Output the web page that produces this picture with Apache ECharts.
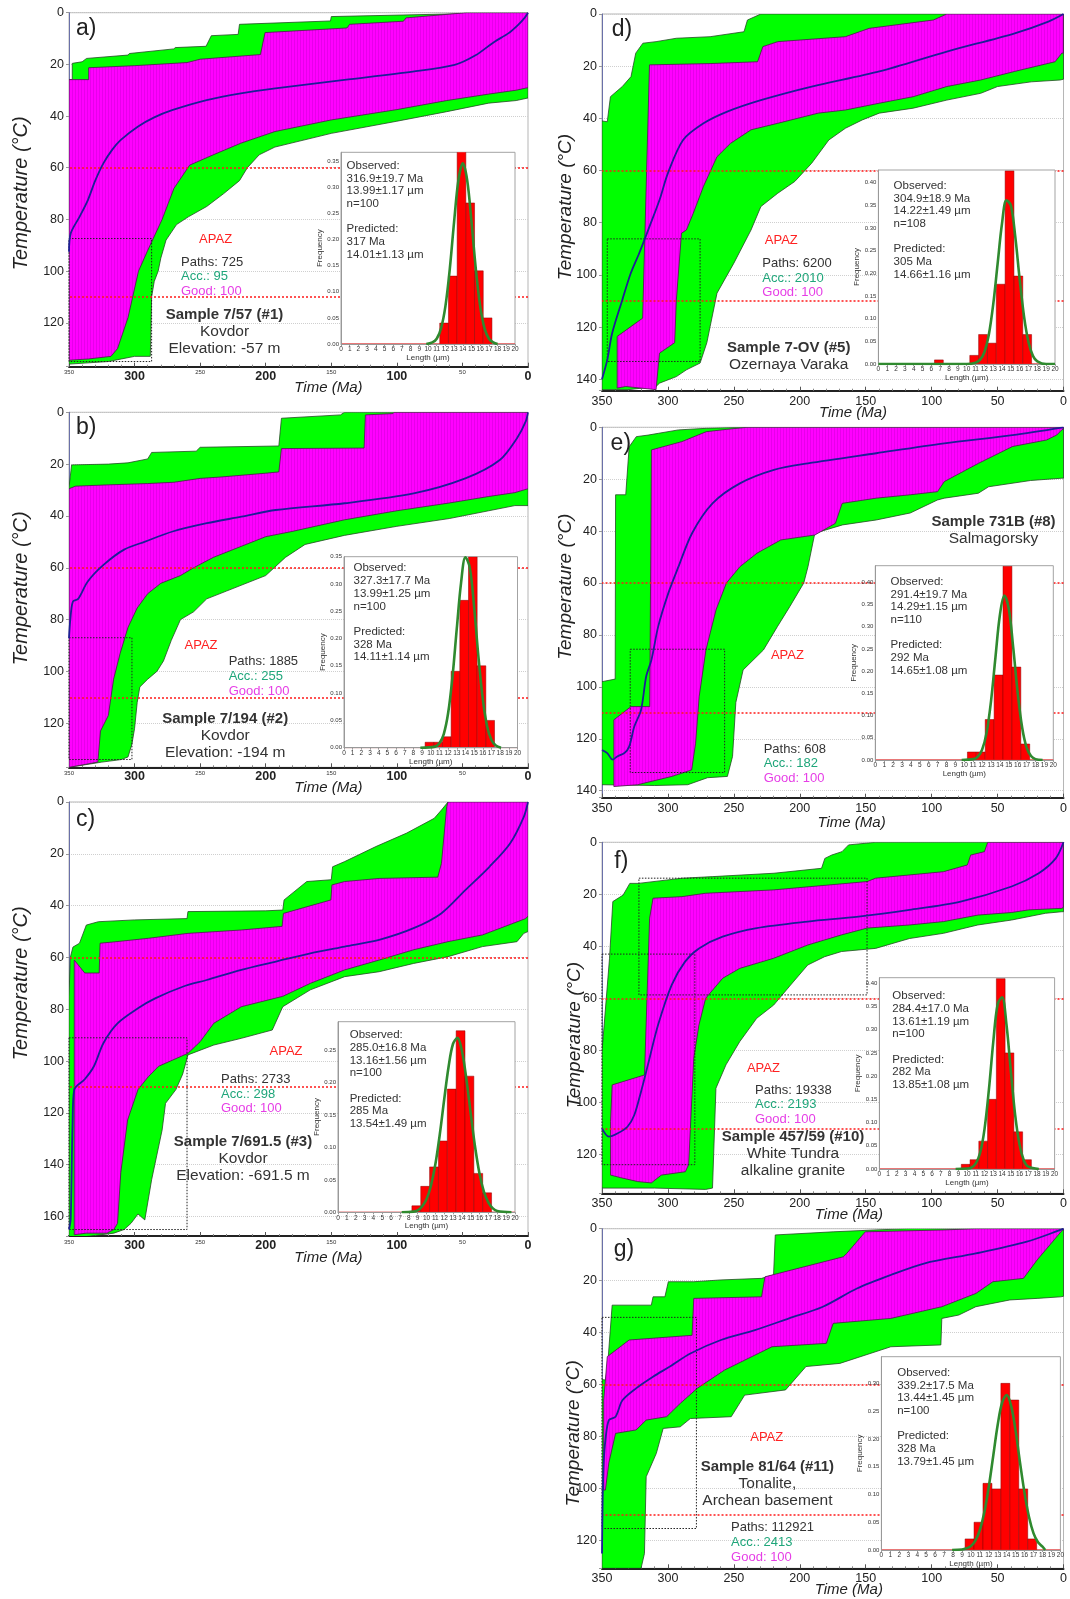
<!DOCTYPE html>
<html><head><meta charset="utf-8">
<script src="https://cdn.jsdelivr.net/npm/echarts@6/dist/echarts.min.js"></script>
<style>html,body{margin:0;padding:0;background:#fff}#c{width:1070px;height:1599px}</style>
</head><body><div id="c"></div>
<script>
// ---------------- DATA ([time Ma, temperature °C]) ----------------
const apazLimits = [60, 110];

const aGreenTop = [[350,25.9],[347.5,25.9],[347.5,19.6],[340,19],[336.6,17.7],[305,16.4],[304,15.8],[270,14],[269,13.5],[245.5,13],[241.5,8.9],[221,8.4],[220,4.5],[150.6,3.2],[150,1.5],[51,0.4],[48,0],[0,0]];
const aGreenBot = [[0,33],[9,34],[30,35],[62,38.3],[100,42],[150,46.7],[193,52],[205,55],[214,60],[220,65],[232,70],[245,75],[259,79],[268,82],[276,88],[280,95],[282,100],[285,104],[287,110],[288,133],[300,133],[310,134],[320,135],[350,136]];
const aMagTop = [[350,25.9],[335,25.9],[335,21.3],[300,20.5],[260,19.3],[250,18],[204,16.2],[200.5,7.7],[138,5.9],[136,4.5],[95,3.3],[93,2],[47,0],[0,0]];
const aMagBot = [[0,29],[9,30],[30,31.5],[62,34],[100,37.5],[150,41.5],[193,46],[219,50.5],[240,55],[258,59],[262,62],[270,68],[279,80],[290,92],[297,100],[305,118],[309,124],[313,130],[318,133],[335,134],[350,134.5]];
const aBest = [[350,92.5],[348.7,85.4],[342,79],[335.6,72.5],[330,65],[323.8,58.3],[317,53],[310.7,49.3],[297.6,44.1],[285,40.5],[271.4,37.7],[245,33.8],[219,31.2],[192.7,29.3],[140,26],[87.8,22.8],[56,20.2],[40,16.5],[25.5,11.2],[15,8],[7.7,4.8],[2.6,2],[0,0]];
const aBox = [350, 287, 87.4, 135];

const bGreenTop = [[350,29],[348,20.3],[320,20],[305,19.5],[290,18],[287,15.5],[253,15],[250,13.5],[190,13],[188,2.3],[143,1],[140,0],[0,0]];
const bGreenBot = [[0,36],[10,36],[30,38],[60,41],[100,44],[140,47.5],[170,51],[185,56],[200,63],[215,66],[230,69],[245,72],[255,77],[265,80],[272,88],[278,96],[283,100],[290,103],[296,106],[298,112],[300,122],[302,128],[305,133],[310,134],[325,135],[350,137]];
const bMagTop = [[350,29.5],[345,28.5],[320,28],[290,27.5],[270,27],[250,25.5],[235,25],[200,23.5],[190,23],[188,14],[125,13.8],[124,1],[103,0.5],[102,0],[0,0]];
const bMagBot = [[0,29.5],[10,31],[30,32.5],[60,35],[100,38],[140,41.5],[180,46],[200,48],[220,52],[240,56],[255,60],[265,63],[280,66],[290,70],[298,75.5],[305,83],[311,93],[316,103],[320,117],[326,123],[328,135],[350,137]];
const bBest = [[350,87.2],[349,80],[347,73],[343,72],[335.7,65.3],[323.7,58.9],[308,53],[292,49.9],[271,46],[244.9,42.8],[218.6,40.3],[192.3,37.7],[139.8,35.1],[87.2,31.3],[47.8,25.5],[21.5,18.4],[8.4,10],[1.8,3.6],[0,0]];
const bBox = [350, 302, 87, 134];

const cGreenTop = [[350,75],[349,60],[347,56],[342,54.5],[336.8,47.5],[327.6,46.2],[300,45.5],[260,45],[259.3,42.3],[200,42],[187,41.7],[186,37.8],[168.7,30.7],[150,30],[149,25],[139.8,23],[116,17.2],[92.5,12],[71.5,6.3],[66,3.1],[61,0],[0,0]];
const cGreenBot = [[0,50],[3.2,50.7],[8.4,53.9],[34.7,55.8],[61,59.7],[87.2,62.3],[113.5,65.5],[139.8,67.4],[166,72.5],[187,79],[195,88],[218.6,91.2],[239.6,93.8],[259.3,97.6],[263.3,105],[268.5,111],[276.4,116.3],[279,126.6],[287,145.8],[292.2,161.3],[297.4,159],[302.7,162.6],[308,165],[315.8,166.4],[336.8,167.7],[350,167.7]];
const cMagTop = [[346,61],[338,66],[327,66],[326.3,54.5],[315.8,54],[289.5,52.6],[259.3,50.7],[218.6,49.4],[187.5,48],[186.5,43],[150.3,37.8],[149.5,32],[139.8,30.7],[113.5,29.5],[68.8,29],[66,23.7],[62,1.8],[61,0],[0,0]];
const cMagBot = [[0,44],[1.8,45],[34.7,51.3],[61,53.9],[87,57],[113.5,61],[139.8,64.8],[166,70],[187,75],[218.6,79],[239.6,85.4],[250,92.5],[259.3,97],[281.7,102],[289.5,106],[297.4,111],[305.3,122.7],[310.5,143],[313,162.6],[315.8,165],[321,166.4],[336.8,166.4],[346,167]];
const cBest = [[350,165],[348.7,161],[347.3,124],[346,111],[338,107],[331,102],[323.7,93],[313,85.4],[297.4,79.6],[284.3,75.8],[263.3,71.3],[245,68.7],[218.6,64.8],[192.3,61.6],[166,58.4],[139.8,55.8],[113.5,53.2],[87.2,48.7],[66.2,43],[47.8,34],[29.4,25],[13.7,16],[3.2,5.7],[0,0]];
const cBox = [350, 260, 91, 165];

const dGreenTop = [[350,41],[346,41.3],[343.6,31.7],[334.6,27.8],[328,24],[324.4,15],[319,11.2],[309,10.6],[293.6,9.3],[268,8.7],[242.3,6.8],[239.7,2.3],[229.5,0],[0,0]];
const dGreenBot = [[0,25],[2.6,25.3],[24.4,26],[50,27.8],[62.8,30.4],[88.5,33],[114,36.1],[139.7,38],[152.6,40.6],[165.4,43.8],[178,48.3],[191,57.2],[203.8,64.2],[216.7,68.7],[229.5,73.8],[237,82.8],[250,95.5],[262.8,107],[268,119.8],[270.5,126],[275.6,133.8],[286,136.4],[293.6,139],[306.4,141.5],[309,142.8],[330,144],[350,144]];
const dMagTop = [[338.5,123.6],[319.2,116.6],[314,19.5],[268,19],[232,18.3],[228,12.5],[216.7,10.6],[165.4,8.7],[147.4,5.5],[98.7,2.3],[88.5,0],[0,0]];
const dMagBot = [[0,15],[1.3,15],[6.4,18.3],[37,22],[62.8,25.3],[88.5,27.8],[114,31.7],[139.7,34.2],[165.4,36.8],[186,38],[216.7,41.9],[237,44.4],[252.6,49.6],[262.8,54.7],[273,66],[280.8,76.4],[286,82.8],[289.7,84],[293.6,109.6],[294.9,126],[306.4,130],[309,144],[332,142.8],[338.5,143.4]];
const dBest = [[350,140],[346,132.6],[342.3,122.4],[334.6,109.6],[328.2,99.4],[321.8,91.7],[314,81.5],[306.4,71.3],[300,61],[288.5,48.3],[273,41.9],[255,37.4],[229.5,33],[191,27.8],[139.7,22],[88.5,14.4],[37,7.4],[11.5,2.9],[0,0]];
const dBox = [346, 275.6, 86.2, 133.2];

const eGreenTop = [[350,98],[340,97],[339.7,26],[332,26],[329.4,7.5],[324,3.6],[315,3],[307,2.3],[292,1],[271,0.4],[245,0],[0,0]];
const eGreenBot = [[0,19.6],[1.3,19.6],[25,20.5],[56.8,22.9],[64.6,25.4],[90.4,27.3],[95.6,28],[116.2,33],[142,35.7],[167.6,37.6],[188.6,40.8],[193.8,53.7],[197,60],[207.5,69],[217,76.8],[227.6,85.8],[243,93.5],[248.5,106],[251,126.8],[254.9,134.5],[270,135],[285,137.7],[310,138],[350,137.7]];
const eMagTop = [[341,112.7],[328,107.6],[313.8,107.6],[312.5,8.7],[307.4,8],[289.3,5.5],[271,1.7],[255.7,0.8],[240,0],[0,0]];
const eMagBot = [[0,0.5],[1.3,1],[5.2,3],[12.9,4.9],[38.7,7.4],[64.6,13.9],[90.4,20.9],[95.6,24.8],[116.2,26],[142,27.3],[167.9,29.3],[173,37],[188.6,41.5],[214.4,43.4],[232.5,48.5],[245.4,53.7],[255.7,60],[263.5,70.3],[271.2,85.8],[276.3,103.7],[279,121.7],[282,132],[297,134.5],[323,137.7],[341,138.4]];
const eBest = [[350,124.3],[346,125.5],[342,128],[338.4,126.8],[333,125.5],[329.4,123],[325.5,115.3],[320.4,108.9],[316.5,96],[312.5,89.6],[307.4,76.8],[299.7,63.9],[292,53.7],[281.7,40.8],[266.2,29.3],[245.4,21.6],[219.6,16.4],[193.8,13.9],[142,10],[90.4,6.2],[38.7,3],[0,0]];
const eBox = [328.6, 257, 85.5, 133];

const fGreenTop = [[350,80.5],[344.3,44.6],[341.8,22.8],[334,20.3],[328.9,15.8],[322.4,15.8],[289,13.8],[266,13.2],[219.6,11.9],[183.5,10],[181,6.2],[175.8,4.9],[168,3.6],[163,1],[142.5,0],[0,0]];
const fGreenBot = [[0,26.7],[1.3,26.7],[13.7,27.3],[39.4,29.9],[65,31.8],[91,35],[116.8,37],[142.5,40.8],[168.3,42],[181.2,44],[194,47.2],[207,54.9],[219.8,62.6],[232.7,67.7],[245.6,76.7],[256,85.6],[263.6,94.6],[266.2,133],[271.4,133.5],[310,133],[350,133]];
const fMagTop = [[343.5,107.4],[342.3,93.3],[317.8,89.5],[313.9,29.2],[311.3,21.5],[289.4,20.9],[271.4,19.6],[219.8,18.3],[148.9,15.1],[142.5,13.8],[91,11.3],[72.9,8.7],[70.4,4.9],[60,3.6],[57.5,0],[0,0]];
const fMagBot = [[0,25],[1.3,25.4],[26.5,26],[39.4,27],[65,28],[91,30.5],[116.8,31.8],[148.9,33],[168.3,35.6],[194,39.5],[219.8,44.6],[245.6,48.5],[258.5,52.3],[271.4,60],[276.5,70.3],[280.4,83],[284.3,124],[286.8,126.7],[305,128],[312.6,131],[322.9,130.5],[335.8,129],[343.5,128]];
const fBest = [[350,110],[344.8,113.2],[338.4,112],[330.7,109.4],[325.5,104.9],[320.4,95.9],[315.2,85.6],[307.5,70.3],[297.2,54.9],[287,45.9],[276.5,40.8],[258.5,36.3],[232.7,33],[194,30.5],[155.4,28.6],[116.8,26],[78,22.8],[39.4,17],[18.8,11.9],[5.9,6.2],[0,0]];
const fBox1 = [322, 149, 13.8, 58.7];
const fBox2 = [350, 279.6, 43, 124];

const gGreenTop = [[350,58],[347.4,58.2],[346,54.4],[342.3,29.4],[312.6,29.4],[311.3,26.2],[302.3,26.2],[299.7,20.4],[280.4,20.4],[259.8,19.7],[229,19.1],[219.9,17.8],[218.6,2.4],[174.7,1.2],[143.8,0.5],[118,0],[0,0]];
const gGreenBot = [[0,26],[2,26.2],[20,26.8],[40.7,27.4],[66.5,30],[79.4,33.2],[92.3,34.5],[93,44.7],[131,45.4],[169.6,51.8],[195.3,53],[210.8,62],[241.8,64],[252,72.3],[283,73],[290.7,76.2],[303.6,76.8],[308.8,86.4],[316.5,95.4],[317.8,124.9],[320.4,130.6],[350,130.6]];
const gMagTop = [[348.7,66],[346,49.2],[329.4,42.8],[281.7,41],[280.4,26.8],[229,26.2],[226.4,18.5],[167,10.8],[164.4,9.5],[150.3,1.2],[92.3,0.5],[66.5,0],[0,0]];
const gMagBot = [[0,0.5],[0.8,0.5],[20,12],[30.4,19.1],[53.6,20.4],[66.5,24.9],[92.3,30],[131,34.5],[174.7,36.4],[179.9,44.1],[221.1,45.4],[239.2,49.9],[257.2,54.4],[277.8,61.4],[290.7,67.2],[301,72.3],[316.5,73.6],[324.2,77.4],[339.7,78.7],[344.8,90],[347.4,100.5],[348.7,100.5]];
const gBest = [[350,124.9],[349.5,104],[348.7,90],[347.4,81.3],[344.8,73.6],[339.7,72.3],[334.5,66],[324.2,61.4],[311.3,56.9],[298.5,53],[283,48],[259.8,42.8],[234,39],[208.2,34.5],[182.5,30],[156.7,23],[131,17.8],[105.2,13.3],[66.5,9.5],[27.8,5],[0,0]];
const gBox = [350, 278.4, 34.1, 115.3];

// track-length histograms: first bin (µm) and frequencies of 1-µm bins
const aHistFrom = 11, aHist = [0.04,0.13,0.37,0.27,0.14,0.05];
const bHistFrom = 9,  bHist = [0.01,0.01,0.02,0.14,0.27,0.35,0.15,0.05];
const cHistFrom = 8,  cHist = [0.01,0.04,0.07,0.11,0.19,0.28,0.21,0.06,0.03];
const dHistFrom = 6,  dHist = [0.009,0,0,0,0.019,0.065,0.046,0.176,0.426,0.194,0.065];
const eHistFrom = 10, eHist = [0.018,0.018,0.091,0.191,0.436,0.209,0.036];
const fHistFrom = 9,  fHist = [0.01,0.02,0.06,0.15,0.41,0.25,0.08,0.02];
const gHistFrom = 9,  gHist = [0.02,0.05,0.12,0.11,0.30,0.27,0.11,0.02];

// predicted length distributions
const aFit = [[9.8,0],[10.5,0.003],[11,0.01],[11.5,0.03],[12,0.072],[12.5,0.143],[13,0.234],[13.5,0.314],[14,0.346],[14.5,0.314],[15,0.234],[15.5,0.143],[16,0.072],[16.5,0.03],[17,0.01],[17.5,0.003],[18,0]];
const bFit = [[8.8,0],[10.5,0.002],[11,0.008],[11.5,0.025],[12,0.063],[12.5,0.129],[13,0.218],[13.5,0.303],[14,0.349],[14.5,0.33],[15,0.258],[15.5,0.166],[16,0.089],[16.5,0.039],[17,0.014],[17.5,0.004],[18.1,0]];
const cFit = [[7.2,0],[8.5,0.001],[9,0.003],[9.5,0.009],[10,0.02],[10.5,0.041],[11,0.074],[11.5,0.12],[12,0.174],[12.5,0.225],[13,0.26],[13.5,0.269],[14,0.249],[14.5,0.206],[15,0.152],[15.5,0.1],[16,0.059],[16.5,0.031],[17,0.015],[17.5,0.006],[18,0.002],[19.6,0]];
const dFit = [[0,0],[10,0],[11,0.003],[11.5,0.009],[12,0.026],[12.5,0.064],[13,0.131],[13.5,0.221],[14,0.31],[14.5,0.361],[15,0.35],[15.5,0.281],[16,0.187],[16.5,0.104],[17,0.048],[17.5,0.018],[18,0.006],[19,0],[20,0]];
const eFit = [[9.7,0],[11,0.002],[11.5,0.007],[12,0.023],[12.5,0.061],[13,0.132],[13.5,0.231],[14,0.326],[14.5,0.37],[15,0.34],[15.5,0.252],[16,0.151],[16.5,0.073],[17,0.028],[17.5,0.009],[18,0.002],[18.8,0]];
const fFit = [[8.7,0],[10,0.001],[10.5,0.003],[11,0.012],[11.5,0.035],[12,0.086],[12.5,0.171],[13,0.274],[13.5,0.355],[14,0.37],[14.5,0.312],[15,0.212],[15.5,0.116],[16,0.052],[16.5,0.018],[17,0.005],[18.2,0]];
const gFit = [[7.9,0],[9,0.001],[9.5,0.003],[10,0.007],[10.5,0.017],[11,0.036],[11.5,0.068],[12,0.114],[12.5,0.17],[13,0.226],[13.5,0.266],[14,0.279],[14.5,0.259],[15,0.214],[15.5,0.156],[16,0.102],[16.5,0.059],[17,0.03],[17.5,0.014],[18,0.006],[18.3,0]];

// text content
const aCounts = [725, 95, 100],    aTitle = ['Sample 7/57 (#1)', 'Kovdor', 'Elevation: -57 m'];
const bCounts = [1885, 255, 100],  bTitle = ['Sample 7/194 (#2)', 'Kovdor', 'Elevation: -194 m'];
const cCounts = [2733, 298, 100],  cTitle = ['Sample 7/691.5 (#3)', 'Kovdor', 'Elevation: -691.5 m'];
const dCounts = [6200, 2010, 100], dTitle = ['Sample 7-OV (#5)', 'Ozernaya Varaka'];
const eCounts = [608, 182, 100],   eTitle = ['Sample 731B (#8)', 'Salmagorsky'];
const fCounts = [19338, 2193, 100],fTitle = ['Sample 457/59 (#10)', 'White Tundra', 'alkaline granite'];
const gCounts = [112921, 2413, 100], gTitle = ['Sample 81/64 (#11)', 'Tonalite,', 'Archean basement'];
const aStats = ['316.9±19.7 Ma','13.99±1.17 µm','n=100','317 Ma','14.01±1.13 µm'];
const bStats = ['327.3±17.7 Ma','13.99±1.25 µm','n=100','328 Ma','14.11±1.14 µm'];
const cStats = ['285.0±16.8 Ma','13.16±1.56 µm','n=100','285 Ma','13.54±1.49 µm'];
const dStats = ['304.9±18.9 Ma','14.22±1.49 µm','n=108','305 Ma','14.66±1.16 µm'];
const eStats = ['291.4±19.7 Ma','14.29±1.15 µm','n=110','292 Ma','14.65±1.08 µm'];
const fStats = ['284.4±17.0 Ma','13.61±1.19 µm','n=100','282 Ma','13.85±1.08 µm'];
const gStats = ['339.2±17.5 Ma','13.44±1.45 µm','n=100','328 Ma','13.79±1.45 µm'];

// ---------------- LAYOUT (pixels) ----------------
const LAYOUT = {
  a:{left:true, grid:[69,12.7,459,354,137],  inset:[341,152.3,174,191.7,0.367], letter:[76,28.3], apaz:[215.6,239], paths:[181,262], title:[224.5,315.3], time:[328.4,388.3], temp:[21.3,193.3], stats:[346.6,165.7]},
  b:{left:true, grid:[69,412.3,459,355,137], inset:[344,556.7,173.5,191,0.35], letter:[76,428], apaz:[201,645.7], paths:[228.7,661.7], title:[225.2,719], time:[328.4,788.3], temp:[21.3,588.3], stats:[353.5,568.3]},
  c:{left:true, grid:[69,802,459,434,167.5], inset:[338,1021.7,177,190.6,0.294], letter:[76,819.3], apaz:[286,1051.3], paths:[221,1079.3], title:[243,1142.3], time:[328.4,1258.3], temp:[21.3,983.3], stats:[349.7,1035]},
  d:{grid:[602,14,462,376.7,144.4],   inset:[878.4,170,176.6,194,0.428], letter:[611.7,29.3], apaz:[781.3,240.7], paths:[762.3,263.3], title:[788.7,348.3], time:[853,413.3], temp:[565.4,207], stats:[893.6,185.7]},
  e:{grid:[602,427.3,462,370.4,142.7], inset:[875.3,565.7,178,194.3,0.437], letter:[610.6,443.3], apaz:[787.4,655], paths:[763.7,749], title:[993.5,522.3], time:[851.6,823.3], temp:[566,586.7], stats:[890.5,581.7]},
  f:{grid:[602,842.3,462,351,135],    inset:[879.4,977.7,175.2,191.3,0.412], letter:[614.3,861.7], apaz:[763.4,1068.3], paths:[755,1090], title:[793,1137.3], time:[848.9,1215], temp:[574.3,1035], stats:[892.3,996]},
  g:{grid:[602,1228.7,462,339.6,130.6], inset:[881.4,1356.7,179,193.3,0.348], letter:[613.8,1250], apaz:[766.7,1437.3], paths:[731.1,1527.7], title:[767.4,1467.3], time:[848.8,1590], temp:[574,1433.3], stats:[897.2,1372.7]}
};
const binShift = 0.35; // HeFTy draws bins slightly offset from integer ticks

const PANELS = [
  {id:'a', gt:aGreenTop, gb:aGreenBot, mt:aMagTop, mb:aMagBot, best:aBest, boxes:[aBox], hf:aHistFrom, hist:aHist, fit:aFit, counts:aCounts, title:aTitle, stats:aStats},
  {id:'b', gt:bGreenTop, gb:bGreenBot, mt:bMagTop, mb:bMagBot, best:bBest, boxes:[bBox], hf:bHistFrom, hist:bHist, fit:bFit, counts:bCounts, title:bTitle, stats:bStats},
  {id:'c', gt:cGreenTop, gb:cGreenBot, mt:cMagTop, mb:cMagBot, best:cBest, boxes:[cBox], hf:cHistFrom, hist:cHist, fit:cFit, counts:cCounts, title:cTitle, stats:cStats},
  {id:'d', gt:dGreenTop, gb:dGreenBot, mt:dMagTop, mb:dMagBot, best:dBest, boxes:[dBox], hf:dHistFrom, hist:dHist, fit:dFit, counts:dCounts, title:dTitle, stats:dStats},
  {id:'e', gt:eGreenTop, gb:eGreenBot, mt:eMagTop, mb:eMagBot, best:eBest, boxes:[eBox], hf:eHistFrom, hist:eHist, fit:eFit, counts:eCounts, title:eTitle, stats:eStats},
  {id:'f', gt:fGreenTop, gb:fGreenBot, mt:fMagTop, mb:fMagBot, best:fBest, boxes:[fBox1,fBox2], hf:fHistFrom, hist:fHist, fit:fFit, counts:fCounts, title:fTitle, stats:fStats},
  {id:'g', gt:gGreenTop, gb:gGreenBot, mt:gMagTop, mb:gMagBot, best:gBest, boxes:[gBox], hf:gHistFrom, hist:gHist, fit:gFit, counts:gCounts, title:gTitle, stats:gStats}
];

// ---------------- BUILD ----------------
const FONT = '"Liberation Sans", Arial, Helvetica, sans-serif';
const grids = [], xAxes = [], yAxes = [], series = [], graphics = [];

function stripes() {
  const cv = document.createElement('canvas');
  cv.width = 3; cv.height = 8;
  const ctx = cv.getContext('2d');
  ctx.fillStyle = '#ff00ff'; ctx.fillRect(0, 0, 3, 8);
  ctx.fillStyle = '#e600ea'; ctx.fillRect(0, 0, 1, 8);
  return {image:cv, repeat:'repeat'};
}
const MAGENTA = stripes();

function txt(text, x, y, size, color, o) {
  o = o || {};
  return {type:'text', x:x, y:y, z:20, silent:true, rotation:o.rot || 0,
    style:{text:text, fontSize:size, fontFamily:FONT, fill:color,
      fontWeight:o.bold ? 'bold' : 'normal', fontStyle:o.italic ? 'italic' : 'normal',
      align:o.align || 'left', verticalAlign:'middle'}};
}
function polySeries(gi, top, bot, fill, stroke, z) {
  const pts = top.concat(bot);
  return {type:'custom', xAxisIndex:gi, yAxisIndex:gi, data:pts, encode:{x:0, y:1}, clip:true, z:z,
    silent:true, animation:false,
    renderItem:function (params, api) {
      if (params.dataIndex !== 0) return null;
      return {type:'polygon', shape:{points:pts.map(function (p) { return api.coord(p); })},
        style:{fill:fill, stroke:stroke, lineWidth:0.8}};
    }};
}
function boxSeries(gi, b) {
  return {type:'line', xAxisIndex:gi, yAxisIndex:gi, silent:true, animation:false, z:4, showSymbol:false,
    data:[[b[0],b[2]],[b[1],b[2]],[b[1],b[3]],[b[0],b[3]],[b[0],b[2]]],
    lineStyle:{color:'#222', width:1, type:[1.5,1.5]}};
}

PANELS.forEach(function (p) {
  const L = LAYOUT[p.id];
  const [gl, gt, gw, gh, tmax] = L.grid;
  const gi = grids.length;
  grids.push({left:gl, top:gt, width:gw, height:gh, show:true, borderColor:'#b5b5b5', borderWidth:1});
  xAxes.push({gridIndex:gi, type:'value', inverse:true, min:0, max:350, interval:50, position:'bottom',
    axisLine:{show:true, onZero:false, lineStyle:{color:'#222', width:2}},
    axisTick:{show:true, inside:true, length:4, lineStyle:{color:'#555'}},
    minorTick:{show:true, splitNumber:5, length:2, lineStyle:{color:'#888'}},
    splitLine:{show:false},
    axisLabel: L.left ? {margin:3, formatter:function (v) { return v % 100 === 0 ? '{b|' + v + '}' : '{s|' + v + '}'; },
        rich:{b:{fontSize:12.5, fontWeight:'bold', color:'#222', fontFamily:FONT}, s:{fontSize:6, color:'#333', fontFamily:FONT}}}
      : {margin:4, fontSize:12.5, color:'#222', fontFamily:FONT}});
  yAxes.push({gridIndex:gi, type:'value', inverse:true, min:0, max:tmax, interval:20, position:'left',
    axisLine:{show:true, onZero:false, lineStyle:{color:'#6a70a8', width:1}},
    axisTick:{show:true, length:3, lineStyle:{color:'#999'}},
    splitLine:{show:true, lineStyle:{type:'dotted', color:'#cfcfcf'}},
    axisLabel:{fontSize:12.5, color:'#222', margin:5, fontFamily:FONT,
      formatter:function (v) { return v % 20 === 0 ? String(v) : ''; }}});

  series.push(polySeries(gi, p.gt, p.gb, '#00ff00', '#244a24', 2));
  series.push(polySeries(gi, p.mt, p.mb, MAGENTA, '#4a1a4a', 3));
  p.boxes.forEach(function (b) { series.push(boxSeries(gi, b)); });
  series.push({type:'line', xAxisIndex:gi, yAxisIndex:gi, data:p.best, showSymbol:false, smooth:0.3, z:5,
    silent:true, animation:false, lineStyle:{color:'#1e1e96', width:1.8},
    markLine:{silent:true, symbol:'none', animation:false, label:{show:false},
      lineStyle:{color:'#ff1a1a', type:[2,2], width:1.5},
      data:apazLimits.map(function (v) { return {yAxis:v}; })}});

  // inset histogram
  const [il, it, iw, ih, fmax] = L.inset;
  const ii = grids.length;
  grids.push({left:il, top:it, width:iw, height:ih, show:false});
  graphics.push({type:'rect', z:10, silent:true, shape:{x:il, y:it, width:iw, height:ih},
    style:{fill:'#fff', stroke:'#a3a3a3', lineWidth:1}});
  xAxes.push({gridIndex:ii, type:'value', min:0, max:20, interval:1, z:12,
    axisLine:{show:true, onZero:false, lineStyle:{color:'#999'}},
    axisTick:{show:true, length:2, lineStyle:{color:'#999'}}, splitLine:{show:false},
    axisLabel:{fontSize:6.5, color:'#333', margin:2, fontFamily:FONT},
    name:'Length (µm)', nameLocation:'middle', nameGap:8, nameTextStyle:{fontSize:8, color:'#333', fontFamily:FONT}});
  yAxes.push({gridIndex:ii, type:'value', min:0, max:fmax, interval:0.05, z:12,
    axisLine:{show:true, onZero:false, lineStyle:{color:'#999'}}, axisTick:{show:false}, splitLine:{show:false},
    axisLabel:{fontSize:6, color:'#333', margin:2, fontFamily:FONT,
      formatter:function (v) { return Math.abs(v * 20 - Math.round(v * 20)) < 1e-6 ? v.toFixed(2) : ''; }},
    name:'Frequency', nameLocation:'middle', nameGap:17, nameTextStyle:{fontSize:8, color:'#333', fontFamily:FONT}});
  series.push({type:'custom', xAxisIndex:ii, yAxisIndex:ii, z:11, clip:true, silent:true, animation:false,
    encode:{x:0, y:1},
    data:p.hist.map(function (h, k) { return [p.hf + k + binShift, h]; }),
    renderItem:function (params, api) {
      const x0 = api.value(0), h = api.value(1);
      if (!h) return null;
      const a = api.coord([x0, h]), b = api.coord([x0 + 1, 0]);
      return {type:'rect', shape:{x:a[0], y:a[1], width:b[0] - a[0], height:b[1] - a[1]},
        style:{fill:'#ff0000', stroke:'#8a0000', lineWidth:0.5}};
    }});
  series.push({type:'line', xAxisIndex:ii, yAxisIndex:ii, z:11, silent:true, animation:false, showSymbol:false,
    data:[[0,0],[20,0]], lineStyle:{color:'#ff2020', width:1.2}});
  series.push({type:'line', xAxisIndex:ii, yAxisIndex:ii, z:12, silent:true, animation:false, showSymbol:false,
    smooth:0.35, data:p.fit, lineStyle:{color:'#2f8a2f', width:2.6}});

  // texts
  graphics.push(txt(p.id + ')', L.letter[0], L.letter[1], 23, '#222'));
  graphics.push(txt('APAZ', L.apaz[0], L.apaz[1], 13, '#ff2222', {align:'center'}));
  graphics.push(txt('Paths: ' + p.counts[0], L.paths[0], L.paths[1], 13, '#333'));
  graphics.push(txt('Acc.: ' + p.counts[1], L.paths[0], L.paths[1] + 14.8, 13, '#1fa67a'));
  graphics.push(txt('Good: ' + p.counts[2], L.paths[0], L.paths[1] + 29.6, 13, '#e63ee6'));
  p.title.forEach(function (t, k) {
    graphics.push(txt(t, L.title[0], L.title[1] + k * 16.8, k === 0 ? 15 : 15.5, '#333', {align:'center', bold:k === 0}));
  });
  const lines = ['Observed:', p.stats[0], p.stats[1], p.stats[2], '', 'Predicted:', p.stats[3], p.stats[4]];
  lines.forEach(function (t, k) {
    if (t) graphics.push(txt(t, L.stats[0], L.stats[1] + k * 12.7, 11.5, '#333'));
  });
  graphics.push(txt('Time (Ma)', L.time[0], L.time[1], 15, '#222', {align:'center', italic:true}));
  graphics.push(txt('Temperature (°C)', L.temp[0], L.temp[1], L.left ? 20 : 19, '#222', {align:'center', italic:true, rot:Math.PI / 2}));
});

const chart = echarts.init(document.getElementById('c'), null, {renderer:'canvas', width:1070, height:1599});
chart.setOption({animation:false, backgroundColor:'#fff', grid:grids, xAxis:xAxes, yAxis:yAxes, series:series, graphic:{elements:graphics}});
</script>
</body></html>
